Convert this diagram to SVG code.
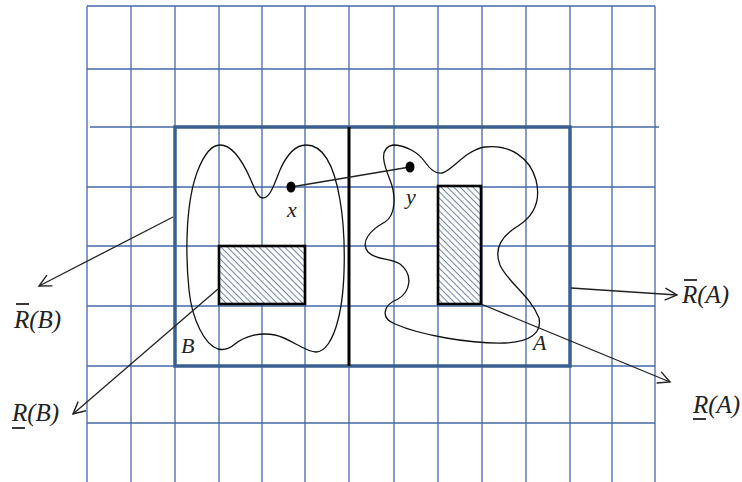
<svg xmlns="http://www.w3.org/2000/svg" width="742" height="482" viewBox="0 0 742 482">
<style>
.grid line{stroke:#4468a6;stroke-width:1.3}
.box{fill:none;stroke:#3a5f91;stroke-width:3.5}
.blob{fill:none;stroke:#111;stroke-width:1.3}
.hatch{fill:url(#hatch);stroke:#000;stroke-width:2.6}
.conn{stroke:#222;stroke-width:1.3;fill:none}
.lbl{font-family:"Liberation Serif","DejaVu Serif",serif;font-style:italic;fill:#222}
.big{font-size:25px}
.small{font-size:22px}
.bar{stroke:#222;stroke-width:1.8}
</style>
<defs>
<pattern id="hatch" patternUnits="userSpaceOnUse" width="4.5" height="4.5" patternTransform="rotate(45)">
<rect width="4.5" height="4.5" fill="#fff"/>
<line x1="0" y1="0.5" x2="4.5" y2="0.5" stroke="#6d84a3" stroke-width="1"/>
</pattern>
<marker id="arr" markerUnits="userSpaceOnUse" markerWidth="16" markerHeight="16" refX="13" refY="7" orient="auto">
<path d="M1,1 L13,7 L1,13" fill="none" stroke="#222" stroke-width="1.4"/>
</marker>
</defs>
<rect width="742" height="482" fill="#fff"/>
<g id="grid" class="grid">
<line x1="87" y1="6" x2="87" y2="482"/>
<line x1="131" y1="6" x2="131" y2="482"/>
<line x1="175" y1="6" x2="175" y2="482"/>
<line x1="219" y1="6" x2="219" y2="482"/>
<line x1="262" y1="6" x2="262" y2="482"/>
<line x1="305" y1="6" x2="305" y2="482"/>
<line x1="349" y1="6" x2="349" y2="482"/>
<line x1="394" y1="6" x2="394" y2="482"/>
<line x1="438" y1="6" x2="438" y2="482"/>
<line x1="482" y1="6" x2="482" y2="482"/>
<line x1="526" y1="6" x2="526" y2="482"/>
<line x1="570" y1="6" x2="570" y2="482"/>
<line x1="612" y1="6" x2="612" y2="482"/>
<line x1="655" y1="6" x2="655" y2="482"/>
<line x1="87" y1="6" x2="655" y2="6"/>
<line x1="87" y1="69" x2="655" y2="69"/>
<line x1="90" y1="127" x2="659" y2="127"/>
<line x1="87" y1="187" x2="655" y2="187"/>
<line x1="87" y1="246" x2="655" y2="246"/>
<line x1="87" y1="306" x2="655" y2="306"/>
<line x1="87" y1="366" x2="655" y2="366"/>
<line x1="87" y1="423" x2="655" y2="423"/>
</g>
<g id="frame">
<rect class="box" x="175" y="127" width="395" height="239"/>
<line x1="349" y1="127" x2="349" y2="366" stroke="#000" stroke-width="3"/>
</g>
<g id="setB">
<path class="blob" d="M220,145 C232,145 242,160 250,178 C255,190 258,198 263,198 C270,198 274,185 280,170 C288,152 296,145 306,145 C325,145 335,170 340,200 C346,235 346,290 338,320 C333,340 325,352 316,352 C305,352 290,338 275,335 C260,332 245,336 235,344 C228,350 222,350 218,349 C205,345 192,320 189,290 C185,250 186,200 198,170 C204,155 212,145 220,145 Z"/>
<text class="lbl small" x="181" y="353">B</text>
</g>
<g id="setA">
<path class="blob" d="M393,145 C405,145 418,152 425,162 C432,172 437,174 442,173 C452,171 465,150 485,147 C510,144 530,158 536,180 C541,200 535,215 518,226 C500,237 494,250 500,265 C508,283 530,295 539,318 C542,333 530,342 505,343 C470,344 420,335 395,324 C380,318 383,305 398,299 C410,292 414,275 400,264 C390,258 375,260 368,252 C360,242 370,230 385,222 C396,215 396,195 390,180 C384,165 378,148 393,145 Z"/>
<text class="lbl small" x="533" y="350">A</text>
</g>
<g id="lowerB">
<rect class="hatch" x="219" y="246" width="86" height="58"/>
</g>
<g id="lowerA">
<rect class="hatch" x="438" y="186" width="43" height="118"/>
</g>
<g id="connectors" class="conn">
<line x1="291" y1="187" x2="410" y2="167"/>
<line x1="173" y1="217" x2="39" y2="286" marker-end="url(#arr)"/>
<line x1="218" y1="289" x2="73" y2="414" marker-end="url(#arr)"/>
<line x1="571" y1="288" x2="677" y2="295" marker-end="url(#arr)"/>
<line x1="481" y1="304" x2="670" y2="382" marker-end="url(#arr)"/>
</g>
<g id="pointX">
<ellipse cx="291" cy="187" rx="4.5" ry="5.5" fill="#000"/>
<text class="lbl small" x="287" y="217">x</text>
</g>
<g id="pointY">
<ellipse cx="410" cy="167" rx="4.5" ry="5.5" fill="#000"/>
<text class="lbl small" x="406" y="204">y</text>
</g>
<g id="labelUpperB">
<text class="lbl big" x="14" y="328">R(B)</text>
<line class="bar" x1="16" y1="304" x2="29" y2="304"/>
</g>
<g id="labelLowerB">
<text class="lbl big" x="12" y="421">R(B)</text>
<line class="bar" x1="12" y1="428" x2="25" y2="428"/>
</g>
<g id="labelUpperA">
<text class="lbl big" x="682" y="303">R(A)</text>
<line class="bar" x1="684" y1="280" x2="697" y2="280"/>
</g>
<g id="labelLowerA">
<text class="lbl big" x="693" y="413">R(A)</text>
<line class="bar" x1="693" y1="419" x2="706" y2="419"/>
</g>
</svg>
